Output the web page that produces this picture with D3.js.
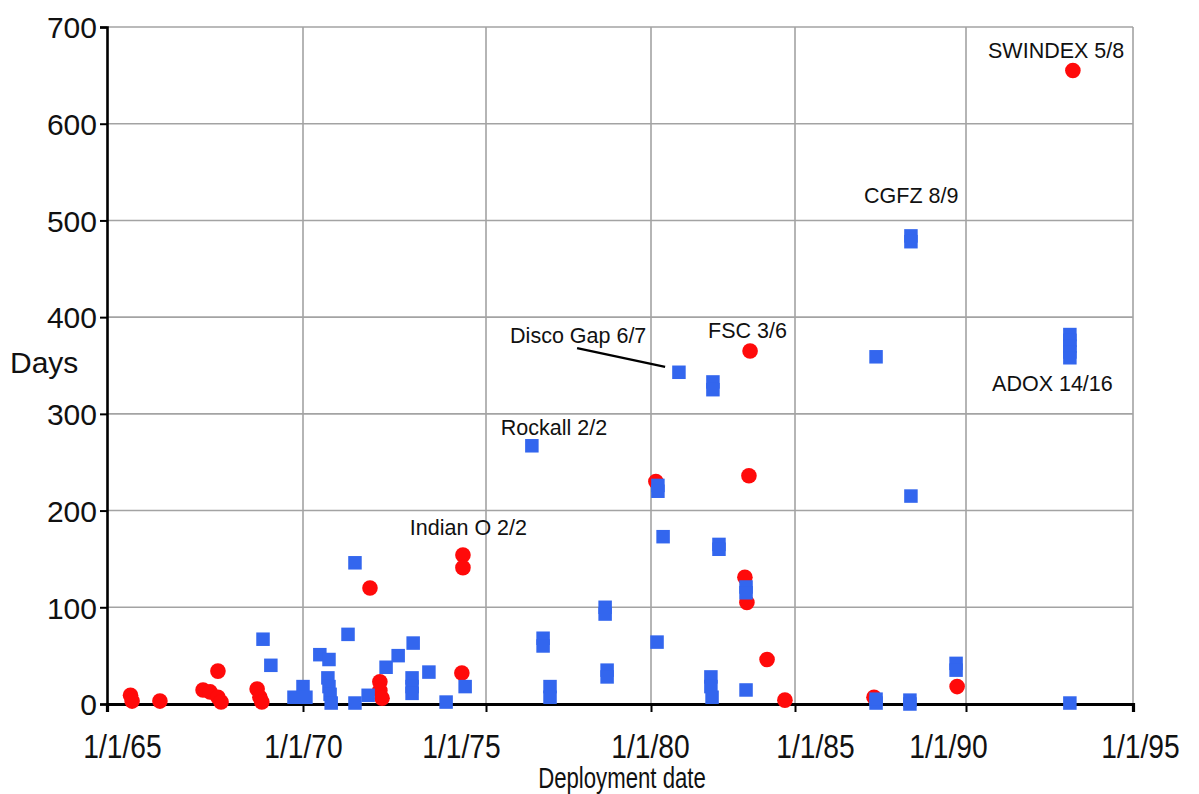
<!DOCTYPE html>
<html>
<head>
<meta charset="utf-8">
<script src="https://cdn.jsdelivr.net/npm/d3@7"></script>
<style>
  html, body { margin: 0; padding: 0; background: #fff; }
  svg { display: block; }
</style>
</head>
<body>
<svg id="chart" width="1199" height="794"></svg>
<script>
// ---------------- DATA ----------------
const tickYears = [1965, 1970, 1975, 1980, 1985, 1990, 1995];
const tickLabels = ["1/1/65", "1/1/70", "1/1/75", "1/1/80", "1/1/85", "1/1/90", "1/1/95"];
const yTicks = [0, 100, 200, 300, 400, 500, 600, 700];

// red circles (deployment date as decimal year, days)
const redDates = [1965.60, 1965.64, 1966.35, 1967.45, 1967.63, 1967.83, 1967.91, 1967.83,
  1968.83, 1968.90, 1968.95, 1971.83, 1972.10, 1972.10, 1972.16, 1974.34, 1974.37, 1974.37,
  1980.17, 1983.40, 1983.44, 1983.26, 1983.33, 1984.03, 1984.65, 1987.31, 1989.74, 1993.20];
const redDays = [9, 3, 3, 14.5, 12.5, 7, 2, 34,
  15.5, 7, 2, 120, 23, 14, 6, 32, 154, 141,
  230, 236, 365, 131, 105, 46, 4, 7, 18, 655];

// blue squares
const blueDates = [1968.98, 1969.18, 1969.77, 1970.00, 1970.08, 1970.46, 1970.71, 1970.68,
  1970.71, 1970.74, 1970.77, 1971.23, 1971.42, 1971.42, 1971.78, 1972.27, 1972.60, 1973.01,
  1972.98, 1972.98, 1972.98, 1973.44, 1973.91, 1974.43, 1976.39, 1976.73, 1976.73, 1976.94,
  1976.94, 1978.61, 1978.61, 1978.67, 1978.67, 1980.21, 1980.24, 1980.24, 1980.42, 1980.97,
  1982.15, 1982.15, 1982.36, 1982.36, 1982.08, 1982.08, 1982.12, 1983.30, 1983.30, 1983.30,
  1987.37, 1987.37, 1987.37, 1988.36, 1988.36, 1988.39, 1988.39, 1988.39, 1989.71, 1989.71,
  1993.11, 1993.11, 1993.11, 1993.11, 1993.11, 1993.11];
const blueDays = [67, 40, 7, 18, 7, 51, 46, 27,
  18, 10, 1, 72, 146, 1, 9, 38, 50, 63,
  27, 18, 11, 33, 2, 18, 267, 68, 60, 18,
  7, 100, 93, 35, 28, 64, 226, 220, 173, 343,
  333, 325, 165, 160, 28, 18, 7, 14.5, 121, 115,
  359, 1, 5, 4, 0, 484, 478, 215, 42, 35,
  1, 382, 376, 370, 364, 358];

// annotations: text, anchor (decimal year, days) of text start / baseline
const noteTexts = ["SWINDEX 5/8", "CGFZ 8/9", "Disco Gap 6/7", "FSC 3/6", "Rockall 2/2", "Indian O 2/2", "ADOX 14/16"];
const noteYears = [1990.66, 1987.02, 1975.73, 1981.98, 1975.45, 1972.92, 1990.78];
const noteDays = [668, 518, 373, 378.5, 278, 175, 323.6];
// leader line for Disco Gap
const leaderYears = [1977.76, 1980.49];
const leaderDays = [368, 348.5];

// ---------------- LAYOUT ----------------
const svg = d3.select("#chart");
const gridX = [107, 303, 486, 651, 795, 966, 1133];
const labelDx = [15, 0, -25, -1, 20, -18, 7];
const x = d3.scaleLinear().domain(tickYears).range(gridX);
const y = d3.scaleLinear().domain([0, 700]).range([704, 27]);
const RED = "#ff0a0a", BLUE = "#3366ee";
const sans = "'Liberation Sans', Arial, sans-serif";
const NARROW = 0.83;

// grid
const grid = svg.append("g");
grid.selectAll("line.h").data(yTicks.filter(d => d > 0)).join("line")
  .attr("x1", x(1965)).attr("x2", x(1995))
  .attr("y1", d => y(d)).attr("y2", d => y(d))
  .attr("stroke", "#a3a3a3").attr("stroke-width", 1.6);
grid.selectAll("line.v").data(tickYears.slice(1)).join("line")
  .attr("x1", d => x(d)).attr("x2", d => x(d))
  .attr("y1", y(0)).attr("y2", y(700))
  .attr("stroke", "#a3a3a3").attr("stroke-width", 1.6);

// axes
const yAxis = d3.axisLeft(y).tickValues(yTicks).tickSize(7).tickFormat(d3.format("d"));
const gy = svg.append("g").attr("transform", `translate(${x(1965)},0)`).call(yAxis);
gy.select(".domain").attr("stroke", "#000").attr("stroke-width", 2.6);
gy.selectAll(".tick line").attr("stroke", "#000").attr("stroke-width", 2);
gy.selectAll(".tick text").attr("font-family", sans).attr("font-size", 30).attr("fill", "#111")
  .attr("x", -10).attr("dy", "0.36em");

const xAxis = d3.axisBottom(x).tickValues(tickYears).tickSize(8).tickFormat((d, i) => tickLabels[i]);
const gx = svg.append("g").attr("transform", `translate(0,${y(0)})`).call(xAxis);
gx.select(".domain").attr("stroke", "#000").attr("stroke-width", 3.2);
gx.selectAll(".tick line").attr("stroke", "#000").attr("stroke-width", 2);
gx.selectAll(".tick text").attr("font-family", sans).attr("font-size", 34).attr("fill", "#111")
  .attr("y", 0).attr("dy", 0)
  .attr("transform", (d, i) => `translate(${labelDx[i]},54) scale(${NARROW},1)`);

// axis titles
svg.append("text").attr("x", 10).attr("y", 373).attr("font-family", sans).attr("font-size", 30)
  .attr("fill", "#111").text("Days");
svg.append("text").attr("transform", `translate(622,788) scale(0.74,1)`)
  .attr("text-anchor", "middle")
  .attr("font-family", sans).attr("font-size", 30).attr("fill", "#111").text("Deployment date");

// points
const redPts = redDates.map((d, i) => ({ t: d, v: redDays[i] }));
const bluePts = blueDates.map((d, i) => ({ t: d, v: blueDays[i] }));
const S = 13.5;
svg.append("g").selectAll("circle").data(redPts).join("circle")
  .attr("cx", d => x(d.t)).attr("cy", d => y(d.v)).attr("r", 7.8).attr("fill", RED);
svg.append("g").selectAll("rect").data(bluePts).join("rect")
  .attr("x", d => x(d.t) - S / 2).attr("y", d => y(d.v) - S / 2)
  .attr("width", S).attr("height", S).attr("fill", BLUE);

// annotations
svg.append("g").selectAll("text").data(noteTexts).join("text")
  .attr("x", (d, i) => x(noteYears[i])).attr("y", (d, i) => y(noteDays[i]))
  .attr("font-family", sans).attr("font-size", 21.5).attr("fill", "#111").text(d => d);
svg.append("line")
  .attr("x1", x(leaderYears[0])).attr("y1", y(leaderDays[0]))
  .attr("x2", x(leaderYears[1])).attr("y2", y(leaderDays[1]))
  .attr("stroke", "#000").attr("stroke-width", 2.4);
</script>
</body>
</html>
